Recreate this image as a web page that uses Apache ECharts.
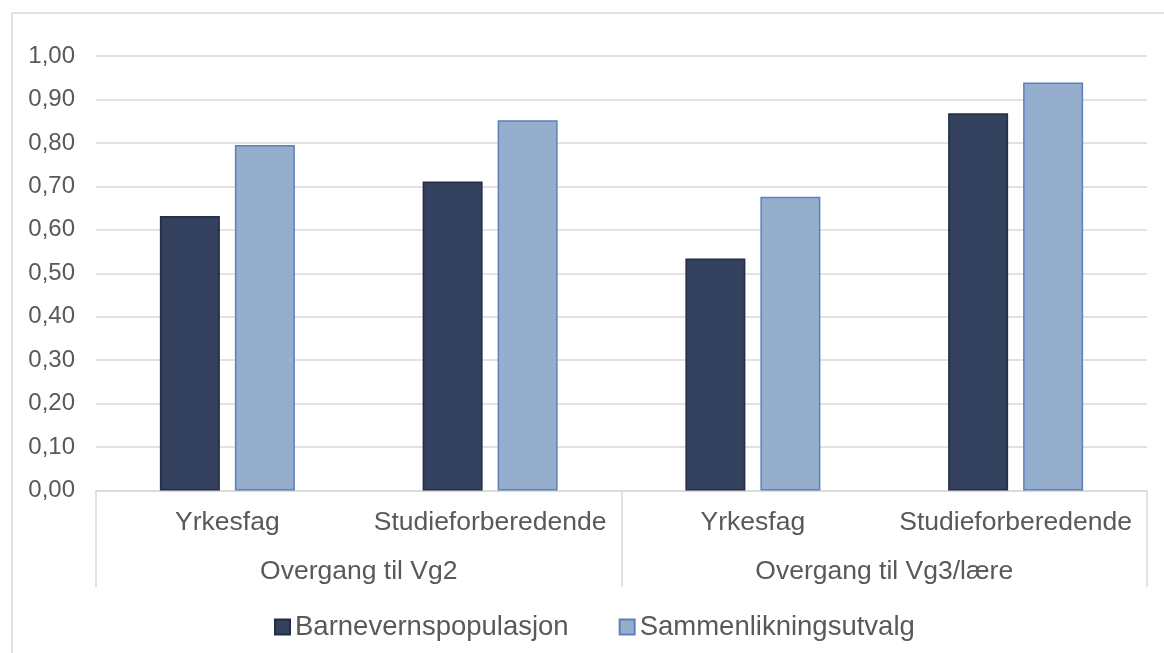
<!DOCTYPE html>
<html>
<head>
<meta charset="utf-8">
<script src="https://cdn.jsdelivr.net/npm/echarts@6/dist/echarts.min.js"></script>
<style>
html,body{margin:0;padding:0;background:#fff;}
#c{width:1164px;height:653px;}
</style>
</head>
<body>
<div id="c"></div>
<script>
const subCategories = ['Yrkesfag', 'Studieforberedende', 'Yrkesfag', 'Studieforberedende'];
const groupCategories = ['Overgang til Vg2', 'Overgang til Vg3/lære'];
const seriesNames = ['Barnevernspopulasjon', 'Sammenlikningsutvalg'];
const barnevern = [0.632, 0.711, 0.534, 0.868];
const sammenlikning = [0.795, 0.852, 0.676, 0.939];
const yTicks = { min: 0, max: 1, interval: 0.1 };

const textColor = '#595959';
const gridColor = '#d9d9d9';
const font = 'Liberation Sans, Arial, sans-serif';

const chart = echarts.init(document.getElementById('c'));
chart.setOption({
  animation: false,
  textStyle: { fontFamily: font },
  graphic: [{
    type: 'rect', z: -1,
    shape: { x: 12, y: 13, width: 1170, height: 700 },
    style: { fill: 'none', stroke: gridColor, lineWidth: 1.5 }
  }],
  grid: { left: 96, right: 17, top: 56, bottom: 162.5 },
  legend: {
    data: seriesNames,
    left: 269, top: 608,
    icon: 'rect', itemWidth: 15, itemHeight: 15, itemGap: 50,
    textStyle: { color: textColor, fontSize: 27.5, fontFamily: font }
  },
  xAxis: [{
    type: 'category',
    data: subCategories,
    position: 'bottom',
    axisLine: { lineStyle: { color: gridColor, width: 1.5 } },
    axisTick: { show: false },
    axisLabel: { color: textColor, fontSize: 26.5, margin: 19, interval: 0 }
  }, {
    type: 'category',
    data: groupCategories,
    position: 'bottom',
    axisLine: { show: false },
    axisTick: { show: true, interval: 0, length: 96.5, lineStyle: { color: gridColor, width: 1.5 } },
    axisLabel: { color: textColor, fontSize: 26.5, margin: 68, interval: 0 }
  }],
  yAxis: {
    type: 'value',
    min: yTicks.min, max: yTicks.max, interval: yTicks.interval,
    axisLine: { show: false },
    axisTick: { show: false },
    splitLine: { lineStyle: { color: gridColor, width: 1.5 } },
    axisLabel: {
      color: textColor, fontSize: 24, margin: 21,
      formatter: v => v.toFixed(2).replace('.', ',')
    }
  },
  series: [{
    name: seriesNames[0], type: 'bar', xAxisIndex: 0,
    data: barnevern, barWidth: 60, barGap: '25%',
    itemStyle: { color: '#33405e', borderColor: '#232d44', borderWidth: 1.5 }
  }, {
    name: seriesNames[1], type: 'bar', xAxisIndex: 0,
    data: sammenlikning, barWidth: 60, barGap: '25%',
    itemStyle: { color: '#95aece', borderColor: '#5b81b7', borderWidth: 1.5 }
  }]
});
</script>
</body>
</html>
